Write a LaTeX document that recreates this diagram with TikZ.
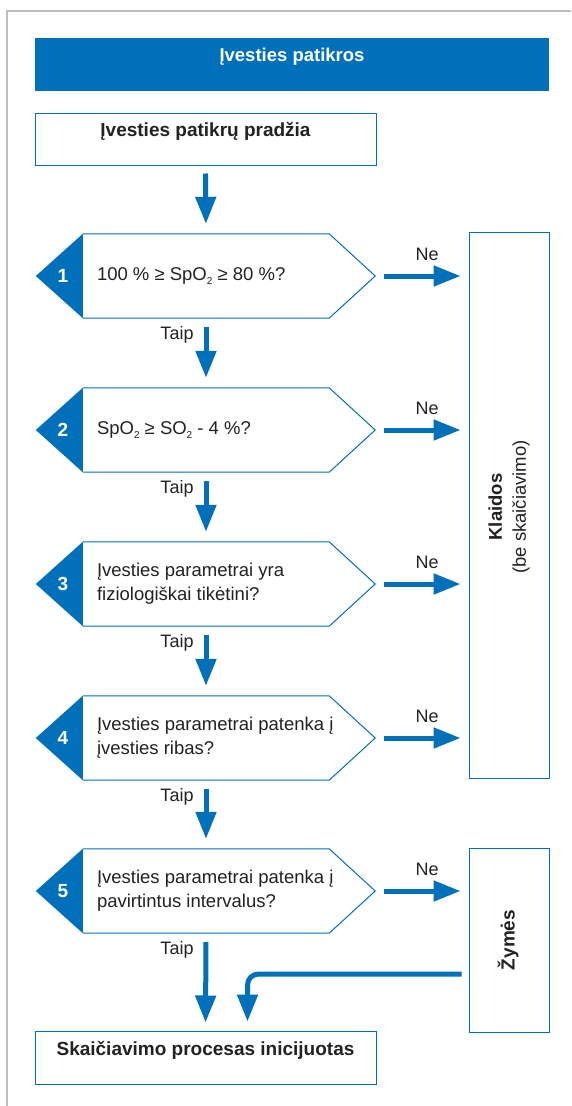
\documentclass[tikz,border=0pt]{standalone}
\usepackage{fontspec}
\setmainfont{Liberation Sans}
\usetikzlibrary{arrows.meta}
\definecolor{rblue}{HTML}{0070BA}
\definecolor{rframe}{HTML}{BDBDBD}
\definecolor{rtext}{HTML}{222222}
\newcommand{\lowtwo}{\raisebox{-4pt}{\fontsize{10}{10}\selectfont 2}}
\newcommand{\hexa}[2]{%
  \fill[rblue] ([xshift=-47pt]#1.west) -- (#1.north west) -- (#1.south west) -- cycle;
  \draw[hexline] (#1.north west) -- (#1.north east) -- ([xshift=46pt]#1.east) -- (#1.south east) -- (#1.south west);
  \node[num] at ([xshift=-20pt]#1.west) {#2};}
\begin{document}
\begin{tikzpicture}[x=1pt,y=-1pt,
  txt/.style={font=\fontsize{18.5}{24}\selectfont, inner sep=0pt, text=rtext},
  btxt/.style={font=\fontsize{19}{24}\selectfont\bfseries, inner sep=0pt, text=rtext},
  num/.style={font=\fontsize{19}{24}\selectfont\bfseries, inner sep=0pt, text=white},
  body/.style={minimum width=246pt, minimum height=84pt, inner sep=0pt},
  hexline/.style={draw=rblue, line width=1pt},
  box/.style={draw=rblue, line width=1pt, inner sep=0pt},
  arr/.style={draw=rblue, line width=5pt, -{Triangle[length=27pt,width=20pt]}},
  lbl/.style={font=\fontsize{18}{20}\selectfont, inner sep=0pt, text=rtext}]
\useasboundingbox (0,0) rectangle (571,1106);
\fill[white] (0,0) rectangle (571,1106);
\draw[rframe, line width=1.5pt] (7,1106) -- (7,11) -- (571,11);
% title
\node[fill=rblue, minimum width=514pt, minimum height=53pt, inner sep=0pt] (tb) at (292,64.5) {};
\node[font=\fontsize{18.5}{24}\selectfont\bfseries, text=white, inner sep=0pt] (tt) at (292,57) {Įvesties patikros};
% start box
\node[box, minimum width=341pt, minimum height=52pt] (st) at (205.5,139) {};
\node[btxt] (stt) at (205.5,131) {Įvesties patikrų pradžia};
% hexagons
\node[body] (h1) at (206,276) {};
\node[body] (h2) at (206,430) {};
\node[body] (h3) at (206,584) {};
\node[body] (h4) at (206,738) {};
\node[body] (h5) at (206,891) {};
\hexa{h1}{1}
\hexa{h2}{2}
\hexa{h3}{3}
\hexa{h4}{4}
\hexa{h5}{5}
\node[txt, anchor=west, align=left] (t1) at ([xshift=14pt]h1.west) {100 \% ≥ SpO\lowtwo{} ≥ 80 \%?};
\node[txt, anchor=west, align=left] (t2) at ([xshift=14pt]h2.west) {SpO\lowtwo{} ≥ SO\lowtwo{} - 4 \%?};
\node[txt, anchor=west, align=left] (t3) at ([xshift=14pt]h3.west) {Įvesties parametrai yra\\fiziologiškai tikėtini?};
\node[txt, anchor=west, align=left] (t4) at ([xshift=14pt]h4.west) {Įvesties parametrai patenka į\\įvesties ribas?};
\node[txt, anchor=west, align=left] (t5) at ([xshift=14pt]h5.west) {Įvesties parametrai patenka į\\pavirtintus intervalus?};
% right boxes
\node[box, minimum width=80pt, minimum height=546pt] (kl) at (509,505) {};
\node[rotate=90, align=center, inner sep=0pt, text=rtext, font=\fontsize{18.5}{24}\selectfont] (klt) at (509,507) {\textbf{Klaidos}\\(be skaičiavimo)};
\node[box, minimum width=80pt, minimum height=184pt] (zy) at (509,940) {};
\node[rotate=90, btxt] (zyt) at (508,940) {Žymės};
% end box
\node[box, minimum width=341pt, minimum height=53pt] (sb) at (205.5,1057.5) {};
\node[btxt] (sbt) at (205.5,1050) {Skaičiavimo procesas inicijuotas};
% arrows
\draw[arr, shorten <=8pt, shorten >=10pt] (st.south) -- (h1.north);
\draw[arr, shorten <=9pt, shorten >=10pt] (h1.south) -- (h2.north);
\draw[arr, shorten <=9pt, shorten >=10pt] (h2.south) -- (h3.north);
\draw[arr, shorten <=9pt, shorten >=10pt] (h3.south) -- (h4.north);
\draw[arr, shorten <=9pt, shorten >=10pt] (h4.south) -- (h5.north);
\draw[arr, shorten <=9pt, shorten >=8pt] (h5.south) -- (sb.north);
\foreach \h in {h1,h2,h3,h4}{
  \draw[arr, shorten <=9pt, shorten >=8pt] ([xshift=46pt]\h.east) -- (kl.west |- \h.east);
  \node[lbl] at ([xshift=98pt,yshift=22pt]\h.east) {Ne};
}
\draw[arr, shorten <=9pt, shorten >=8pt] ([xshift=46pt]h5.east) -- (zy.west |- h5.east);
\node[lbl] at ([xshift=98pt,yshift=22pt]h5.east) {Ne};
\foreach \h in {h1,h2,h3,h4,h5}{
  \node[lbl] at ([xshift=-29pt,yshift=-17pt]\h.south) {Taip};
}
\draw[arr, rounded corners=11pt, shorten >=9pt] ([xshift=-7pt,yshift=-34pt]zy.west) -| ([xshift=42pt]sb.north);
\end{tikzpicture}
\end{document}
